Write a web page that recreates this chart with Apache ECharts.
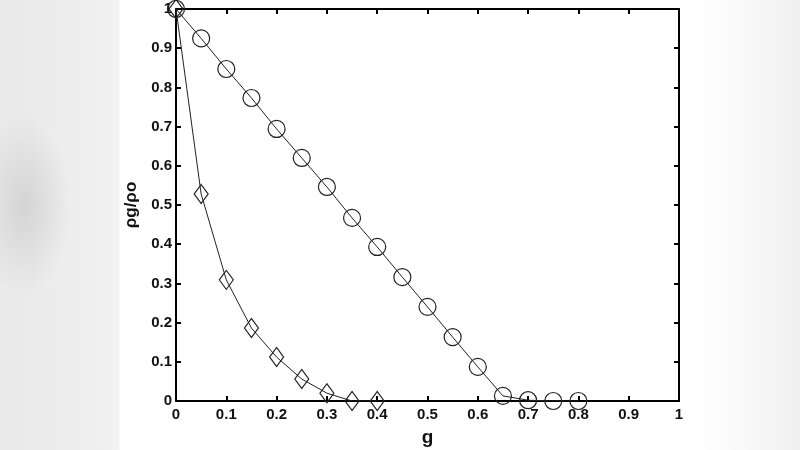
<!DOCTYPE html>
<html>
<head>
<meta charset="utf-8">
<script src="https://cdn.jsdelivr.net/npm/echarts@6/dist/echarts.min.js"></script>
<style>
html,body{margin:0;padding:0;width:800px;height:450px;overflow:hidden;}
body{background:
 radial-gradient(ellipse 45px 90px at 25px 205px, rgba(185,185,185,0.45), rgba(210,210,210,0) 100%),
 linear-gradient(to right,#e9e9e9 0px,#efefef 100px,#f3f3f3 119px,#ffffff 120px,#ffffff 700px,#f0f0f0 800px);}
#c{width:800px;height:450px;}
</style>
</head>
<body>
<div id="c"></div>
<script>
const circleX = [0,0.05,0.1,0.15,0.2,0.25,0.3,0.35,0.4,0.45,0.5,0.55,0.6,0.65,0.7,0.75,0.8];
const circleY = [1.0,0.925,0.847,0.773,0.694,0.620,0.546,0.467,0.393,0.316,0.240,0.163,0.087,0.013,0.002,0.0,0.0];
const diamondX = [0,0.05,0.1,0.15,0.2,0.25,0.3,0.35,0.4];
const diamondY = [1.0,0.528,0.309,0.186,0.112,0.056,0.020,0.0,0.0];
const xTicks = ['0','0.1','0.2','0.3','0.4','0.5','0.6','0.7','0.8','0.9','1'];
const yTicks = ['0','0.1','0.2','0.3','0.4','0.5','0.6','0.7','0.8','0.9','1'];

const font = 'Liberation Sans, Arial, sans-serif';
const axisLine = {show:true, onZero:false, lineStyle:{color:'#000', width:2}};
const tick = {show:true, inside:true, length:5, lineStyle:{color:'#000', width:2}};
const lbl = {color:'#111', fontFamily:font, fontWeight:'bold', fontSize:15};

const chart = echarts.init(document.getElementById('c'), null, {renderer:'canvas'});
chart.setOption({
  backgroundColor:'transparent',
  animation:false,
  grid:{left:176, right:121, top:9, bottom:49, containLabel:false, outerBoundsMode:'none'},
  xAxis:[
    {type:'value', min:0, max:1, interval:0.1, position:'bottom',
     axisLine:axisLine, axisTick:tick, splitLine:{show:false},
     axisLabel:Object.assign({margin:6, formatter:(v)=>xTicks[Math.round(v*10)]}, lbl),
     name:'g', nameLocation:'middle', nameGap:27,
     nameTextStyle:{fontFamily:font, fontWeight:'bold', fontSize:19, color:'#111'}},
    {type:'value', min:0, max:1, interval:0.1, position:'top',
     axisLine:axisLine, axisTick:tick, splitLine:{show:false}, axisLabel:{show:false}}
  ],
  yAxis:[
    {type:'value', min:0, max:1, interval:0.1, position:'left',
     axisLine:axisLine, axisTick:tick, splitLine:{show:false},
     axisLabel:Object.assign({margin:4, formatter:(v)=>yTicks[Math.round(v*10)]}, lbl),
     name:'ρg/ρo', nameLocation:'middle', nameGap:34,
     nameTextStyle:{fontFamily:font, fontWeight:'bold', fontSize:17, color:'#111'}},
    {type:'value', min:0, max:1, interval:0.1, position:'right',
     axisLine:axisLine, axisTick:tick, splitLine:{show:false}, axisLabel:{show:false}}
  ],
  series:[
    {type:'line', data:circleX.map((x,i)=>[x,circleY[i]]),
     symbol:'circle', symbolSize:17, showAllSymbol:true,
     lineStyle:{color:'#222', width:1},
     itemStyle:{color:'rgba(0,0,0,0)', borderColor:'#222', borderWidth:1.2}},
    {type:'line', data:diamondX.map((x,i)=>[x,diamondY[i]]),
     symbol:'diamond', symbolSize:[14,19], showAllSymbol:true,
     lineStyle:{color:'#222', width:1},
     itemStyle:{color:'rgba(0,0,0,0)', borderColor:'#222', borderWidth:1.2}}
  ]
});
</script>
</body>
</html>
